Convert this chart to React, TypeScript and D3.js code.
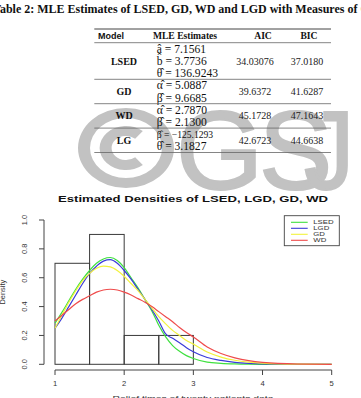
import * as d3 from "d3";
import * as React from "react";

// ---- table ----
const tableTitle =
  "Table 2: MLE Estimates of LSED, GD, WD and LGD with Measures of Goodness of Fit";
const headers = ["Model", "MLE Estimates", "AIC", "BIC"];
const models = ["LSED", "GD", "WD", "LG"];
const estimates = [
  ["a\u0302 = 7.1561", "b\u0302 = 3.7736", "\u03b8\u0302 = 136.9243"],
  ["\u03b1\u0302 = 5.0887", "\u03b2\u0302 = 9.6685"],
  ["\u03b1\u0302 = 2.7870", "\u03b2\u0302 = 2.1300"],
  ["\u03b2\u0302 = \u2212125.1293", "\u03b8\u0302 = 3.1827"],
];
const aic = ["34.03076", "39.6372", "45.1728", "42.6723"];
const bic = ["37.0180", "41.6287", "47.1643", "44.6638"];

// ---- histogram + fitted densities ----
const chartTitle = "Estimated Densities of LSED, LGD, GD, WD";
const breaks = [1, 1.5, 2, 2.5, 3];
const histDensity = [0.7, 0.9, 0.2, 0.2];
const gridX = [
  1.0, 1.1, 1.2, 1.3, 1.4, 1.5, 1.6, 1.7, 1.8, 1.9, 2.0, 2.1, 2.2, 2.3, 2.4,
  2.5, 2.6, 2.7, 2.8, 2.9, 3.0, 3.2, 3.4, 3.6, 3.8, 4.0, 4.5, 5.0,
];
const lsed = [
  0.285, 0.36, 0.44, 0.52, 0.59, 0.65, 0.7, 0.73, 0.74, 0.72, 0.67, 0.6, 0.53,
  0.45, 0.37, 0.27, 0.19, 0.13, 0.09, 0.06, 0.04, 0.015, 0.007, 0.003, 0.001, 0,
  0, 0,
];
const lgd = [
  0.25, 0.32, 0.4, 0.48, 0.56, 0.63, 0.68, 0.715, 0.725, 0.7, 0.65, 0.59, 0.52,
  0.45, 0.38, 0.3, 0.21, 0.18, 0.15, 0.115, 0.087, 0.047, 0.027, 0.014, 0.007,
  0.003, 0, 0,
];
const gd = [
  0.25, 0.34, 0.43, 0.51, 0.58, 0.63, 0.665, 0.68, 0.675, 0.65, 0.61, 0.56,
  0.51, 0.45, 0.39, 0.33, 0.28, 0.235, 0.2, 0.165, 0.14, 0.085, 0.05, 0.028,
  0.015, 0.008, 0.001, 0,
];
const wd = [
  0.3, 0.34, 0.38, 0.42, 0.45, 0.475, 0.5, 0.515, 0.52, 0.515, 0.5, 0.48, 0.455,
  0.43, 0.4, 0.365, 0.33, 0.295, 0.255, 0.22, 0.19, 0.12, 0.075, 0.045, 0.025,
  0.013, 0.002, 0,
];
const legendNames = ["LSED", "LGD", "GD", "WD"];
const seriesColors = ["#3fe03f", "#3b3bd9", "#f2f23c", "#ef4b4b"];
const xTicks = [1, 2, 3, 4, 5];
const yTicks = [0, 0.2, 0.4, 0.6, 0.8, 1.0];

const W = 361;
const H = 398;
const serif = "'Liberation Serif', 'Times New Roman', serif";
const sans = "'Liberation Sans', Arial, sans-serif";

const markLetters = ["G", "S", "J"];

function Watermark() {
  const ring = d3
    .arc()
    .innerRadius(30)
    .outerRadius(40)
    .startAngle(0)
    .endAngle(2 * Math.PI);
  const cee = d3
    .arc()
    .innerRadius(12)
    .outerRadius(22)
    .startAngle(0.78 * Math.PI)
    .endAngle(2.22 * Math.PI);
  // letter origin x and horizontal squeeze
  const place = [
    [176, 1.0],
    [259, 0.98],
    [304, 0.9],
  ];
  return (
    <g fill="#c2c2c2" stroke="#c2c2c2">
      <g transform="translate(126,148) scale(1.2,1)" stroke="none">
        <path d={ring(null as any) as string} />
        <path d={cee(null as any) as string} />
      </g>
      {markLetters.map((c, i) => (
        <text
          key={c}
          transform={`translate(${place[i][0]},189) scale(${place[i][1]},1)`}
          fontFamily={sans}
          fontSize={112}
          strokeWidth={2}
        >
          {c}
        </text>
      ))}
    </g>
  );
}

function Table() {
  const left = 94.3;
  const right = 331;
  const top = 29;
  const headBottom = 42.7;
  const lineH = 12.2;
  const colModel = 124;
  const colEst = 156.7;
  const colAic = 255;
  const colBic = 307;

  let cursor = headBottom;
  const rows = models.map((m, i) => {
    const n = estimates[i].length;
    const y0 = cursor;
    cursor += n * lineH;
    return { m, i, y0, y1: cursor, n };
  });

  return (
    <g>
      <text
        x={-7}
        y={13}
        fontFamily={serif}
        fontWeight="bold"
        fontSize={12}
        fill="#111"
      >
        {tableTitle}
      </text>
      <line x1={left} x2={right} y1={top} y2={top} stroke="#444" />
      <line
        x1={left}
        x2={right}
        y1={headBottom}
        y2={headBottom}
        stroke="#666"
        strokeWidth={0.8}
      />
      {headers.map((h, i) => (
        <text
          key={h}
          x={[111, 185, 263, 309][i]}
          y={(top + headBottom) / 2}
          dy="0.35em"
          textAnchor="middle"
          fontFamily={i === 0 ? sans : serif}
          fontWeight="bold"
          fontSize={i === 0 ? 9 : 9.6}
          fill="#111"
        >
          {h}
        </text>
      ))}
      {rows.map((r) => {
        const mid = (r.y0 + r.y1) / 2;
        return (
          <g key={r.m}>
            <text
              x={colModel}
              y={mid}
              dy="0.35em"
              textAnchor="middle"
              fontFamily={serif}
              fontWeight="bold"
              fontSize={10}
              fill="#111"
            >
              {r.m}
            </text>
            {estimates[r.i].map((e, k) => (
              <text
                key={k}
                x={colEst}
                y={r.y0 + (k + 0.5) * lineH}
                dy="0.35em"
                fontFamily={serif}
                fontSize={r.i === 3 && k === 0 ? 9.6 : 11.6}
                fill="#111"
              >
                {e}
              </text>
            ))}
            <text
              x={colAic}
              y={mid}
              dy="0.35em"
              textAnchor="middle"
              fontFamily={serif}
              fontSize={10}
              fill="#222"
            >
              {aic[r.i]}
            </text>
            <text
              x={colBic}
              y={mid}
              dy="0.35em"
              textAnchor="middle"
              fontFamily={serif}
              fontSize={10}
              fill="#222"
            >
              {bic[r.i]}
            </text>
            <line
              x1={left}
              x2={right}
              y1={r.y1}
              y2={r.y1}
              stroke="#666"
              strokeWidth={0.8}
            />
          </g>
        );
      })}
    </g>
  );
}

function DensityChart() {
  const x = d3.scaleLinear().domain([1, 5]).range([55, 331.7]);
  const y = d3.scaleLinear().domain([0, 1]).range([364.3, 220]);
  const axisY = 370;
  const axisX = 44;
  const series = [lsed, lgd, gd, wd];
  const line = d3
    .line<number>()
    .x((_, i) => x(gridX[i]))
    .y((d) => y(d))
    .curve(d3.curveMonotoneX);

  const lx = 284.3;
  const ly = 215.7;

  return (
    <g>
      <text
        x={193}
        y={201.5}
        textAnchor="middle"
        fontFamily={sans}
        fontWeight="bold"
        fontSize={8.6}
        textLength={270}
        lengthAdjust="spacingAndGlyphs"
        fill="#111"
      >
        {chartTitle}
      </text>

      {histDensity.map((d, i) => (
        <rect
          key={i}
          x={x(breaks[i])}
          y={y(d)}
          width={x(breaks[i + 1]) - x(breaks[i])}
          height={y(0) - y(d)}
          fill="none"
          stroke="#3a3a3a"
          strokeWidth={1}
        />
      ))}

      {series.map((s, i) => (
        <path
          key={legendNames[i]}
          d={line(s) as string}
          fill="none"
          stroke={seriesColors[i]}
          strokeWidth={1.2}
        />
      ))}

      {/* y axis */}
      <line x1={axisX} x2={axisX} y1={y(0)} y2={y(1)} stroke="#444" />
      {yTicks.map((t) => (
        <g key={t}>
          <line x1={axisX - 5} x2={axisX} y1={y(t)} y2={y(t)} stroke="#444" />
          <text
            transform={`translate(27,${y(t)}) rotate(-90)`}
            textAnchor="middle"
            fontFamily={sans}
            fontSize={7.4}
            fill="#333"
          >
            {t.toFixed(1)}
          </text>
        </g>
      ))}
      <text
        transform={`translate(5,${(y(0) + y(1)) / 2}) rotate(-90)`}
        textAnchor="middle"
        fontFamily={sans}
        fontSize={7.4}
        fill="#333"
      >
        Density
      </text>

      {/* x axis */}
      <line x1={x(1)} x2={x(5)} y1={axisY} y2={axisY} stroke="#444" />
      {xTicks.map((t) => (
        <g key={t}>
          <line x1={x(t)} x2={x(t)} y1={axisY} y2={axisY + 5} stroke="#444" />
          <text
            x={x(t)}
            y={385.5}
            textAnchor="middle"
            fontFamily={sans}
            fontSize={7.6}
            fill="#333"
          >
            {t}
          </text>
        </g>
      ))}
      <text
        x={193}
        y={401}
        textAnchor="middle"
        fontFamily={sans}
        fontSize={8}
        textLength={161}
        lengthAdjust="spacingAndGlyphs"
        fill="#333"
      >
        Relief times of twenty patients data
      </text>

      {/* legend */}
      <rect
        x={lx}
        y={ly}
        width={55}
        height={30}
        fill="#fff"
        stroke="#444"
        strokeWidth={0.9}
      />
      {legendNames.map((n, i) => {
        const yy = ly + 6.6 + i * 6;
        return (
          <g key={n}>
            <line
              x1={lx + 6.7}
              x2={lx + 23.4}
              y1={yy}
              y2={yy}
              stroke={seriesColors[i]}
              strokeWidth={1.1}
            />
            <text
              transform={`translate(${lx + 29},${yy}) scale(1.3,1)`}
              dy="0.35em"
              fontFamily={sans}
              fontSize={6}
              fill="#333"
            >
              {n}
            </text>
          </g>
        );
      })}
    </g>
  );
}

export default function App() {
  return (
    <svg
      width={W}
      height={H}
      style={{ position: "absolute", left: 0, top: 0, background: "#fff" }}
    >
      <rect width={W} height={H} fill="#fff" />
      <Watermark />
      <Table />
      <DensityChart />
    </svg>
  );
}
